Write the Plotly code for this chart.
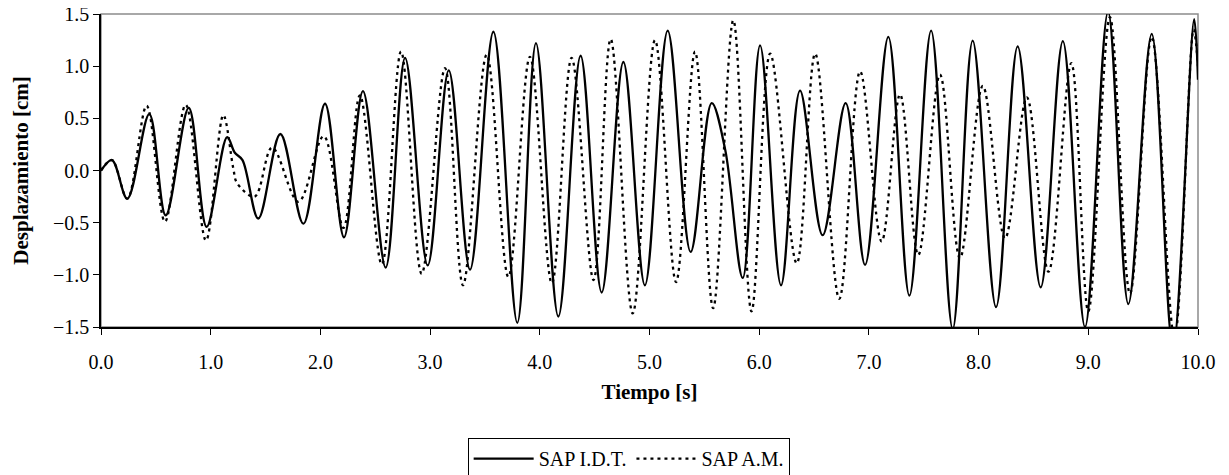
import plotly.graph_objects as go

# SAP I.D.T. (línea continua): extremos
t_idt = [0.00, 0.10, 0.24, 0.44, 0.59, 0.80, 0.963, 1.15, 1.22, 1.29, 1.434,
         1.635, 1.845, 2.042, 2.215, 2.388, 2.595, 2.772, 2.978, 3.17, 3.364,
         3.577, 3.795, 3.965, 4.169, 4.372, 4.564, 4.762, 4.958, 5.166, 5.375,
         5.567, 5.69, 5.85, 6.008, 6.199, 6.372, 6.578, 6.788, 6.965, 7.177, 7.369,
         7.567, 7.764, 7.946, 8.159, 8.356, 8.566, 8.768, 8.97, 9.18, 9.365,
         9.578, 9.772, 9.965, 10.0]
d_idt = [0.00, 0.10, -0.27, 0.54, -0.43, 0.60, -0.54, 0.32, 0.17, 0.10, -0.46,
         0.35, -0.51, 0.64, -0.64, 0.76, -0.93, 1.08, -0.91, 0.96, -0.95,
         1.33, -1.46, 1.22, -1.40, 1.10, -1.17, 1.04, -1.10, 1.34, -0.78,
         0.645, 0.20, -1.03, 1.20, -1.10, 0.765, -0.62, 0.645, -0.905, 1.28, -1.20,
         1.34, -1.52, 1.245, -1.31, 1.19, -1.12, 1.24, -1.50, 1.52, -1.28,
         1.31, -1.70, 1.45, 0.87]

# SAP A.M. (línea punteada)
t_am = [0.00, 0.10, 0.24, 0.416, 0.583, 0.772, 0.957, 1.115, 1.206, 1.24, 1.40,
        1.56, 1.80, 2.03, 2.21, 2.36, 2.56, 2.735, 2.923, 3.136, 3.30,
        3.516, 3.713, 3.91, 4.11, 4.29, 4.49, 4.646, 4.847, 5.05, 5.242,
        5.415, 5.58, 5.764, 5.93, 6.10, 6.342, 6.51, 6.73, 6.92, 7.116,
        7.284, 7.45, 7.648, 7.83, 8.038, 8.241, 8.44, 8.637, 8.845, 9.0,
        9.197, 9.38, 9.578, 9.785, 9.96, 10.0]
d_am = [0.00, 0.10, -0.27, 0.62, -0.49, 0.63, -0.67, 0.53, 0.02, -0.12, -0.25,
        0.22, -0.30, 0.33, -0.55, 0.72, -0.90, 1.14, -0.99, 0.98, -1.10,
        1.11, -1.02, 1.09, -1.08, 1.08, -1.05, 1.26, -1.37, 1.25, -1.07,
        1.14, -1.32, 1.44, -1.35, 1.12, -0.89, 1.12, -1.23, 0.95, -0.68,
        0.73, -0.81, 0.92, -0.84, 0.81, -0.65, 0.70, -0.97, 1.03, -1.35,
        1.47, -1.18, 1.28, -1.60, 1.35, 1.0]

fuente = "Liberation Serif, Times New Roman, serif"

fig = go.Figure()
fig.add_trace(go.Scatter(x=t_idt, y=d_idt, mode="lines", name="SAP I.D.T.",
                         line=dict(color="black", width=2.3, shape="spline", smoothing=1.0)))
fig.add_trace(go.Scatter(x=t_am, y=d_am, mode="lines", name="SAP A.M.",
                         line=dict(color="black", width=2.3, dash="3px,4px",
                                   shape="spline", smoothing=1.0)))

# borde gris arriba y a la derecha
fig.add_shape(type="rect", xref="paper", yref="paper", x0=0, x1=1, y0=0, y1=1,
              line=dict(color="#8c8c8c", width=1.5), layer="below")

# la página añade 8 px de margen al body: la figura es algo menor que la ventana
fig.update_layout(
    width=1221, height=467,
    margin=dict(l=93, r=31, t=6, b=148, autoexpand=False),
    plot_bgcolor="white", paper_bgcolor="white",
    font=dict(family=fuente, size=20, color="black"),
    legend=dict(orientation="h", x=0.481, xanchor="center", y=-0.355, yanchor="top",
                bordercolor="black", borderwidth=1, font=dict(size=20),
                itemwidth=60),
)
fig.update_xaxes(range=[0, 10], dtick=1, tickformat=".1f", showgrid=False, zeroline=False,
                 showline=True, linecolor="black", linewidth=1.5, ticks="outside",
                 ticklen=6, tickcolor="black", ticklabelstandoff=10, automargin=False,
                 ticklabeloverflow="allow",
                 title=dict(text="<b>Tiempo [s]</b>", font=dict(size=21), standoff=13))
fig.update_yaxes(range=[-1.5, 1.5], dtick=0.5, tickformat=".1f", showgrid=False, zeroline=False,
                 showline=True, linecolor="black", linewidth=1.5, ticks="outside",
                 ticklen=6, tickcolor="black", automargin=False,
                 ticklabeloverflow="allow",
                 title=dict(text="<b>Desplazamiento [cm]</b>", font=dict(size=21), standoff=19))

fig.write_html("out.html")
